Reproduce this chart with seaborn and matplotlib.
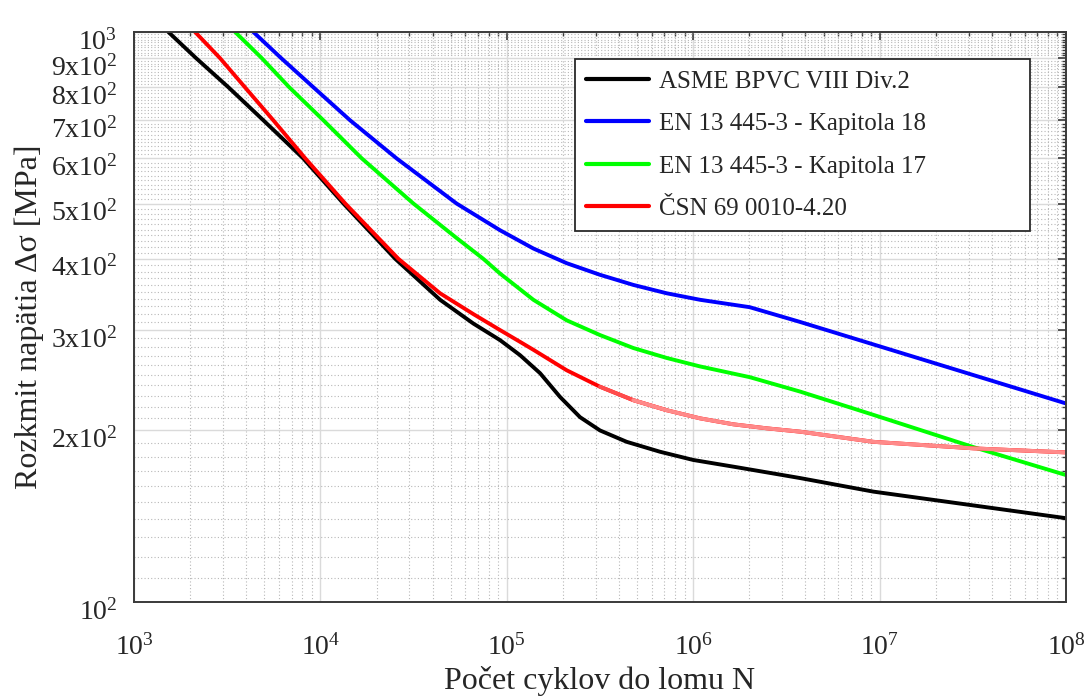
import numpy as np
import pandas as pd
import matplotlib
matplotlib.use("Agg")
import matplotlib.pyplot as plt
import matplotlib.transforms as mtransforms
import seaborn as sns
from matplotlib.ticker import FixedLocator, NullFormatter

# --- data (N cycles, stress range MPa) ---
asme_n = [1528, 2150, 3207, 4940, 8090, 13300, 25200, 43850, 66100, 92000, 117800,
          150800, 192900, 247000, 316000, 439500, 663000, 1.0e6, 1.78e6, 3.74e6, 9.25e6, 1e8]
asme_s = [1000, 900, 800, 700, 600, 500, 400, 339, 308, 288, 271,
          252, 229, 211, 200, 191, 183.5, 177.5, 172, 165, 156.2, 140.3]

en18_n = [4365, 6150, 9160, 14420, 25640, 53800, 91900, 138800, 209500, 316000,
          477000, 721000, 1.087e6, 2.01e6, 3.74e6, 1e8]
en18_s = [1000, 900, 800, 700, 600, 500, 449, 417, 393, 375,
          360, 348, 339, 329, 310, 223]

en17_n = [3485, 4840, 6800, 10370, 16680, 31560, 53800, 74800, 91900, 138800, 209500,
          316000, 477000, 721000, 1.087e6, 2.01e6, 3.74e6, 9.25e6, 3.18e7, 1e8]
en17_s = [1000, 900, 800, 700, 600, 500, 435, 400, 377, 339, 312,
          294, 279, 268, 259, 248, 234, 213, 187, 167]

csn_n = [2125, 2890, 3933, 5587, 8300, 13600, 26200, 43850, 66100, 91900, 117800, 138800,
         209500, 316000, 477000, 721000, 1.087e6, 1.64e6, 2.48e6, 3.74e6, 9.25e6, 3.2e7, 1e8]
csn_s = [1000, 900, 800, 700, 600, 500, 400, 348, 320, 300, 286, 277,
         255, 238.6, 226, 217, 210, 205, 201.7, 199, 191, 186, 183]

series_names = ["ASME BPVC VIII Div.2", "EN 13 445-3 - Kapitola 18",
                "EN 13 445-3 - Kapitola 17", "ČSN 69 0010-4.20"]
series_colors = ["#000000", "#0000ff", "#00ff00", "#ff0000"]

x_tick_values = [1e3, 1e4, 1e5, 1e6, 1e7, 1e8]
x_tick_labels = [r"$10^{3}$", r"$10^{4}$", r"$10^{5}$", r"$10^{6}$", r"$10^{7}$", r"$10^{8}$"]
y_tick_values = [100, 200, 300, 400, 500, 600, 700, 800, 900, 1000]
y_tick_labels = [r"$10^{2}$", r"$2\mathrm{x}10^{2}$", r"$3\mathrm{x}10^{2}$", r"$4\mathrm{x}10^{2}$",
                 r"$5\mathrm{x}10^{2}$", r"$6\mathrm{x}10^{2}$", r"$7\mathrm{x}10^{2}$",
                 r"$8\mathrm{x}10^{2}$", r"$9\mathrm{x}10^{2}$", r"$10^{3}$"]

frames = []
for name, n, s in zip(series_names, [asme_n, en18_n, en17_n, csn_n],
                      [asme_s, en18_s, en17_s, csn_s]):
    frames.append(pd.DataFrame({"N": n, "S": s, "norma": name}))
data = pd.concat(frames, ignore_index=True)

sns.set_theme(style="white")
plt.rcParams["font.family"] = ["Liberation Serif", "DejaVu Serif"]
plt.rcParams["mathtext.fontset"] = "custom"
plt.rcParams["mathtext.rm"] = "Liberation Serif"
plt.rcParams["mathtext.it"] = "Liberation Serif:italic"
plt.rcParams["mathtext.default"] = "rm"

fig = plt.figure(figsize=(10.87, 6.98), dpi=100)
ax = fig.add_axes([0.1233, 0.1375, 0.8574, 0.8167])

sns.lineplot(data=data, x="N", y="S", hue="norma", hue_order=series_names,
             palette=series_colors, estimator=None, sort=False, linewidth=2.8, ax=ax)

# the CSN curve fades to a lighter red towards high cycle counts in the source
i0 = csn_n.index(477000)
ax.plot(csn_n[i0 - 1:i0 + 2], csn_s[i0 - 1:i0 + 2], color="#ff4c4c", linewidth=2.8)
ax.plot(csn_n[i0:], csn_s[i0:], color="#ff8a8a", linewidth=2.8)

ax.set_xscale("log")
ax.set_yscale("log")
ax.set_xlim(1e3, 1e8)
ax.set_ylim(100, 1000)

ax.xaxis.set_major_locator(FixedLocator(x_tick_values))
ax.set_xticklabels(x_tick_labels)
x_minor = [m * 10 ** e for e in range(3, 8) for m in range(2, 10)]
ax.xaxis.set_minor_locator(FixedLocator(x_minor))
ax.xaxis.set_minor_formatter(NullFormatter())

ax.yaxis.set_major_locator(FixedLocator(y_tick_values))
ax.set_yticklabels(y_tick_labels)
y_minor = [v for v in range(110, 1000, 10) if v % 100 != 0]
ax.yaxis.set_minor_locator(FixedLocator(y_minor))
ax.yaxis.set_minor_formatter(NullFormatter())

ax.grid(which="major", color="#dadada", linestyle="-", linewidth=1.0)
ax.grid(which="minor", color="#b8b8b8", linestyle=(0, (1, 2)), linewidth=0.8)
ax.set_axisbelow(True)

for sp in ax.spines.values():
    sp.set_color("#3a3a3a")
    sp.set_linewidth(1.4)
ax.tick_params(which="both", direction="in", top=True, right=True, color="#3a3a3a")
ax.tick_params(which="major", length=6, width=1.2, labelsize=20, labelcolor="#262626")
ax.tick_params(which="minor", length=3, width=1.0)
ax.tick_params(axis="x", which="major", pad=23)
ax.tick_params(axis="y", which="major", pad=12)

shift = mtransforms.ScaledTranslation(0, -5 / 72, fig.dpi_scale_trans)
for lab in ax.get_yticklabels():
    lab.set_transform(lab.get_transform() + shift)

ax.set_xlabel("Počet cyklov do lomu N", fontsize=23, color="#262626", labelpad=4)
ax.set_ylabel("Rozkmit napätia Δσ [MPa]", fontsize=23, color="#262626", labelpad=5)

handles, labels = ax.get_legend_handles_labels()
leg = ax.legend(handles[:4], labels[:4], loc="upper left",
                bbox_to_anchor=(0.4732, 0.6491, 0.4882, 0.3035), mode="expand",
                fontsize=18, frameon=True, fancybox=False, framealpha=1,
                handlelength=2.5, handletextpad=0.4, labelspacing=0.8, borderpad=0.45,
                borderaxespad=0)
leg.get_frame().set_edgecolor("#2a2a2a")
leg.get_frame().set_linewidth(1.3)
for line in leg.get_lines():
    line.set_linewidth(3)

fig.savefig("out.png", dpi=100, facecolor="white")
